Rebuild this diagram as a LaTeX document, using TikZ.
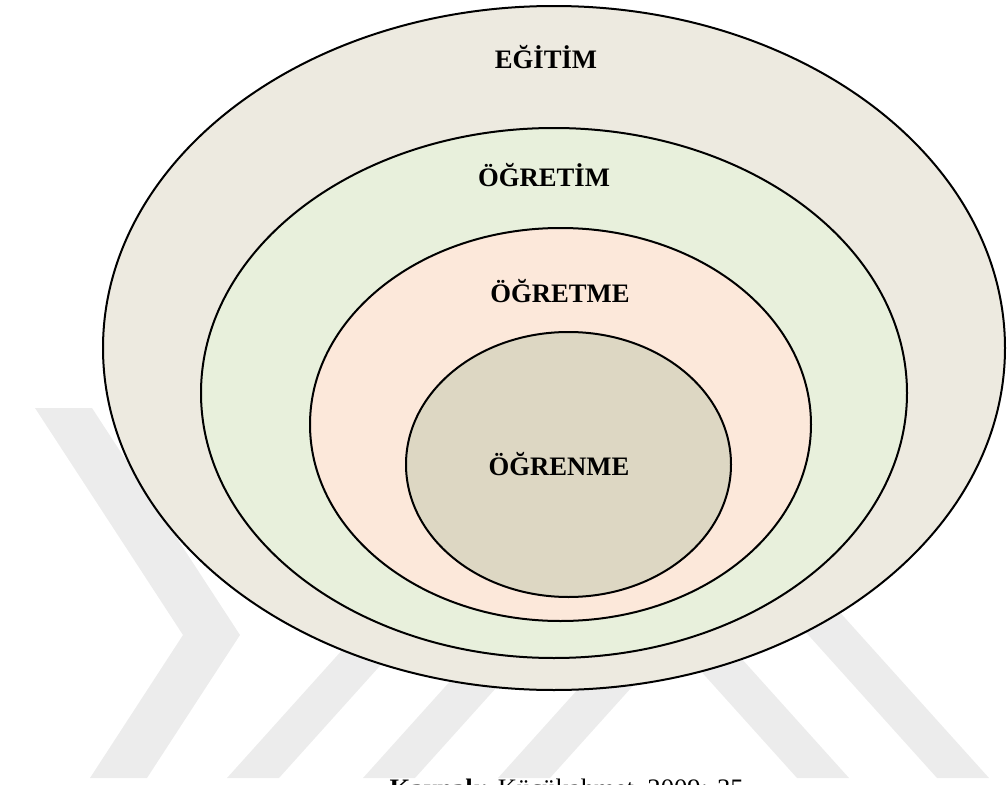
\documentclass[tikz,border=0pt]{standalone}
\usepackage{fontspec}
\setmainfont{Liberation Serif}

\definecolor{renkegitim}{HTML}{EDEAE0}
\definecolor{renkogretim}{HTML}{E8F0DC}
\definecolor{renkogretme}{HTML}{FCE8DA}
\definecolor{renkogrenme}{HTML}{DDD7C3}
\definecolor{filigrangri}{HTML}{ECECEC}

\tikzset{
  halka/.style={draw=black, line width=1.5pt},
  etiket/.style={font=\fontsize{20}{24}\selectfont\bfseries, anchor=base},
  filigran/.style={fill=filigrangri, draw=none}
}

\begin{document}
\begin{tikzpicture}[x=0.75pt,y=-0.75pt]
        \useasboundingbox (0,0) rectangle (1008,785);

        % Filigran
        \fill[filigran] (35,408) -- (92,408) -- (240,635) -- (147,778) -- (90,778) -- (183,635) -- cycle;
        \foreach \b in {227,363,498} \fill[filigran] (\b,778) -- ++(52,0) -- ++(333,-370) -- ++(-52,0) -- cycle;
        \foreach \b in {797,937} \fill[filigran] (\b,778) -- ++(52,0) -- ++(-333,-370) -- ++(-52,0) -- cycle;

        % Halkalar
        \draw[halka, fill=renkegitim] (554,348) ellipse [x radius=451, y radius=342];
        \draw[halka, fill=renkogretim] (554,393) ellipse [x radius=353, y radius=265];
        \draw[halka, fill=renkogretme] (560.5,424.5) ellipse [x radius=250.5, y radius=196.5];
        \draw[halka, fill=renkogrenme] (568.5,464.5) ellipse [x radius=162.5, y radius=132.5];

        % Etiketler
        \node[etiket] (egitim) at (546,68) {EĞİTİM};
        \node[etiket] (ogretim) at (544,186) {ÖĞRETİM};
        \node[etiket] (ogretme) at (560,302) {ÖĞRETME};
        \node[etiket] (ogrenme) at (559,475) {ÖĞRENME};

        % Kaynak
        \node[anchor=base west, font=\fontsize{20}{24}\selectfont] (kaynak) at (385,797) {\textbf{Kaynak:} Küçükahmet, 2009: 35};
    \end{tikzpicture}
\end{document}
